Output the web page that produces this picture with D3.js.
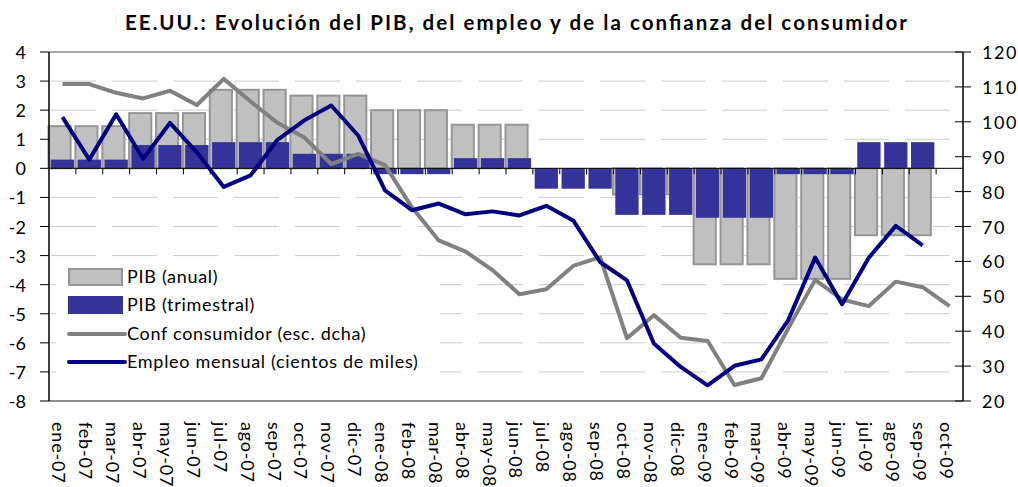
<!DOCTYPE html>
<html>
<head>
<meta charset="utf-8">
<script src="https://cdn.jsdelivr.net/npm/d3@7"></script>
<style>
  html, body { margin: 0; padding: 0; background: #fff; }
  svg { display: block; font-family: Lato, "DejaVu Sans", sans-serif; }
</style>
</head>
<body>
<svg id="chart" width="1018" height="487"></svg>
<script>
// Data
const months = ['ene-07', 'feb-07', 'mar-07', 'abr-07', 'may-07', 'jun-07', 'jul-07', 'ago-07', 'sep-07', 'oct-07', 'nov-07', 'dic-07',
    'ene-08', 'feb-08', 'mar-08', 'abr-08', 'may-08', 'jun-08', 'jul-08', 'ago-08', 'sep-08', 'oct-08', 'nov-08', 'dic-08',
    'ene-09', 'feb-09', 'mar-09', 'abr-09', 'may-09', 'jun-09', 'jul-09', 'ago-09', 'sep-09', 'oct-09'];

// PIB (% interanual), repeated for each month of the quarter
const pibAnual = [1.45, 1.45, 1.45, 1.9, 1.9, 1.9, 2.7, 2.7, 2.7, 2.5, 2.5, 2.5,
    2.0, 2.0, 2.0, 1.5, 1.5, 1.5, 0.0, 0.0, 0.0, -0.9, -0.9, -0.9,
    -3.3, -3.3, -3.3, -3.8, -3.8, -3.8, -2.3, -2.3, -2.3, null];

// PIB (% trimestral)
const pibTrimestral = [0.3, 0.3, 0.3, 0.8, 0.8, 0.8, 0.9, 0.9, 0.9, 0.5, 0.5, 0.5,
    -0.2, -0.2, -0.2, 0.35, 0.35, 0.35, -0.7, -0.7, -0.7, -1.6, -1.6, -1.6,
    -1.7, -1.7, -1.7, -0.2, -0.2, -0.2, 0.9, 0.9, 0.9, null];

// Confianza del consumidor (eje derecho)
const confConsumidor = [110.8, 110.8, 108.3, 106.7, 108.9, 104.8, 112.3, 105.8, 99.7, 95.5, 87.9, 90.8,
    87.6, 75.5, 66.0, 62.8, 57.5, 50.6, 52.0, 58.7, 61.2, 38.0, 44.6, 38.1,
    37.2, 24.6, 26.5, 40.8, 54.7, 49.1, 47.2, 54.2, 52.6, 47.2];

// Empleo mensual (cientos de miles)
const empleo = [1.76, 0.3, 1.86, 0.33, 1.56, 0.55, -0.64, -0.24, 0.98, 1.65, 2.16, 1.13,
    -0.76, -1.44, -1.21, -1.58, -1.48, -1.62, -1.29, -1.79, -3.22, -3.85, -6.02, -6.83,
    -7.46, -6.79, -6.57, -5.22, -3.07, -4.67, -3.07, -1.98, -2.65, null];

const leftTicks = [4, 3, 2, 1, 0, -1, -2, -3, -4, -5, -6, -7, -8];
const rightTicks = [120, 110, 100, 90, 80, 70, 60, 50, 40, 30, 20];

const title = 'EE.UU.:  Evolución del PIB, del empleo y de la confianza del consumidor';

const legendItems = [
    { label: 'PIB (anual)', type: 'barAnual' },
    { label: 'PIB (trimestral)', type: 'barTrim' },
    { label: 'Conf consumidor (esc. dcha)', type: 'lineConf' },
    { label: 'Empleo mensual (cientos de miles)', type: 'lineEmp' }
];

const COLORS = {
    barFill: '#c0c0c0', barStroke: '#969696',
    trim: '#333399', conf: '#808080', emp: '#000080',
    grid: '#cccccc'
};

const plot = { left: 49, right: 963, top: 52, bottom: 401 };

const svg = d3.select('#chart');

const x = d3.scaleBand().domain(months).range([plot.left, plot.right]).padding(0);
const yL = d3.scaleLinear().domain([-8, 4]).range([plot.bottom, plot.top]);
const yR = d3.scaleLinear().domain([20, 120]).range([plot.bottom, plot.top]);
const bw = x.bandwidth();
const cx = m => x(m) + bw / 2;

// Title
svg.append('text')
    .attr('x', 516).attr('y', 30)
    .attr('text-anchor', 'middle')
    .attr('font-size', 20.5).attr('font-weight', 700).attr('fill', '#000')
    .attr('textLength', 782).attr('lengthAdjust', 'spacing')
    .text(title);

// Gridlines (dashed, left scale)
const g = svg.append('g');
leftTicks.filter(t => t !== 0 && t !== 4 && t !== -8).forEach(t => {
    g.append('line')
        .attr('x1', plot.left + 2).attr('x2', plot.right - 2)
        .attr('y1', yL(t)).attr('y2', yL(t))
        .attr('stroke', COLORS.grid).attr('stroke-width', 1)
        .attr('stroke-dasharray', '45,16');
});

// Legend background (covers gridlines)
svg.append('rect')
    .attr('x', 56).attr('y', 262).attr('width', 384).attr('height', 130)
    .attr('fill', '#fff');

// PIB anual bars
const barW = bw * 0.86;
g.selectAll('rect.anual')
    .data(months.map((m, i) => ({ m, v: pibAnual[i] })).filter(d => d.v != null))
    .join('rect')
    .attr('class', 'anual')
    .attr('x', d => x(d.m) - 0.5)
    .attr('y', d => Math.min(yL(d.v), yL(0)))
    .attr('width', barW - 1)
    .attr('height', d => Math.abs(yL(d.v) - yL(0)))
    .attr('fill', COLORS.barFill)
    .attr('stroke', COLORS.barStroke).attr('stroke-width', 2);

// PIB trimestral bars
g.selectAll('rect.trim')
    .data(months.map((m, i) => ({ m, v: pibTrimestral[i] })).filter(d => d.v != null))
    .join('rect')
    .attr('class', 'trim')
    .attr('x', d => x(d.m) + 1.8)
    .attr('y', d => Math.min(yL(d.v), yL(0)))
    .attr('width', bw - 3.6)
    .attr('height', d => Math.abs(yL(d.v) - yL(0)))
    .attr('fill', COLORS.trim);

// Plot frame: top and bottom in gray
svg.append('line')
    .attr('x1', plot.left).attr('x2', plot.right)
    .attr('y1', plot.top).attr('y2', plot.top)
    .attr('stroke', '#888').attr('stroke-width', 1.5);
svg.append('line')
    .attr('x1', plot.left).attr('x2', plot.right)
    .attr('y1', plot.bottom).attr('y2', plot.bottom)
    .attr('stroke', '#8c8c8c').attr('stroke-width', 2);

// Category axis at zero
const xAxis = svg.append('g');
xAxis.append('line')
    .attr('x1', plot.left).attr('x2', plot.right)
    .attr('y1', yL(0)).attr('y2', yL(0))
    .attr('stroke', '#000').attr('stroke-width', 1);
months.forEach((m, i) => {
    if (i === 0) return;
    xAxis.append('line')
        .attr('x1', x(m)).attr('x2', x(m))
        .attr('y1', yL(0)).attr('y2', yL(0) + 6)
        .attr('stroke', '#000').attr('stroke-width', 1);
});

// Month labels, rotated, below the plot
svg.append('g').selectAll('text')
    .data(months)
    .join('text')
    .attr('transform', m => `translate(${cx(m) - 3},422) rotate(90)`)
    .attr('dominant-baseline', 'central')
    .attr('font-size', 18).attr('letter-spacing', 0.8).attr('fill', '#000')
    .text(m => m);

// Left axis
svg.append('line')
    .attr('x1', plot.left).attr('x2', plot.left)
    .attr('y1', plot.top).attr('y2', plot.bottom)
    .attr('stroke', '#000').attr('stroke-width', 1.5);
leftTicks.forEach(t => {
    svg.append('line')
        .attr('x1', plot.left - 9).attr('x2', plot.left)
        .attr('y1', yL(t)).attr('y2', yL(t))
        .attr('stroke', '#000').attr('stroke-width', 1);
    svg.append('text')
        .attr('x', 26).attr('y', yL(t))
        .attr('text-anchor', 'end').attr('dominant-baseline', 'central')
        .attr('font-size', 18).attr('fill', '#000')
        .text(t);
});

// Right axis
svg.append('line')
    .attr('x1', plot.right).attr('x2', plot.right)
    .attr('y1', plot.top).attr('y2', plot.bottom)
    .attr('stroke', '#000').attr('stroke-width', 1.5);
rightTicks.forEach(t => {
    svg.append('line')
        .attr('x1', plot.right - 8).attr('x2', plot.right + 8)
        .attr('y1', yR(t)).attr('y2', yR(t))
        .attr('stroke', '#000').attr('stroke-width', 1);
    svg.append('text')
        .attr('x', 982).attr('y', yR(t))
        .attr('dominant-baseline', 'central')
        .attr('font-size', 18).attr('fill', '#000')
        .attr('letter-spacing', 1.5)
        .text(t);
});

// Lines
const confLine = d3.line()
    .x((d, i) => cx(months[i]))
    .y(d => yR(d))
    .defined(d => d != null);
svg.append('path').datum(confConsumidor)
    .attr('d', confLine)
    .attr('fill', 'none').attr('stroke', COLORS.conf)
    .attr('stroke-width', 4).attr('stroke-linejoin', 'round');

const empLine = d3.line()
    .x((d, i) => cx(months[i]))
    .y(d => yL(d))
    .defined(d => d != null);
svg.append('path').datum(empleo)
    .attr('d', empLine)
    .attr('fill', 'none').attr('stroke', COLORS.emp)
    .attr('stroke-width', 4).attr('stroke-linejoin', 'round');

// Legend
const lg = svg.append('g');
const rowY = [277, 305, 334, 362];
legendItems.forEach((it, i) => {
    const y = rowY[i];
    if (it.type === 'barAnual') {
        lg.append('rect').attr('x', 69).attr('y', y - 8).attr('width', 53).attr('height', 16)
            .attr('fill', COLORS.barFill).attr('stroke', COLORS.barStroke).attr('stroke-width', 2);
    } else if (it.type === 'barTrim') {
        lg.append('rect').attr('x', 68).attr('y', y - 9).attr('width', 55).attr('height', 18)
            .attr('fill', COLORS.trim);
    } else {
        lg.append('line').attr('x1', 69).attr('x2', 125).attr('y1', y).attr('y2', y)
            .attr('stroke', it.type === 'lineConf' ? COLORS.conf : COLORS.emp)
            .attr('stroke-width', 4).attr('stroke-linecap', 'round');
    }
    lg.append('text')
        .attr('x', 127).attr('y', y + 6)
        .attr('font-size', 18).attr('letter-spacing', 0.7).attr('fill', '#000')
        .text(it.label);
});
</script>
</body>
</html>
